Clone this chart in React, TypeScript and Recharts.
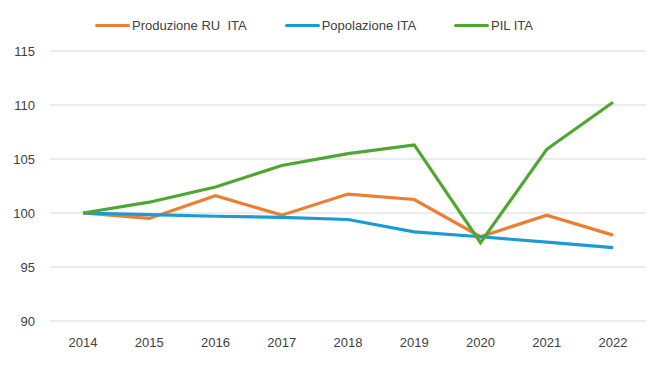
import React from 'react';
import { LineChart, Line, XAxis, YAxis, CartesianGrid } from 'recharts';

const years = ['2014', '2015', '2016', '2017', '2018', '2019', '2020', '2021', '2022'];
const produzione = [100, 99.5, 101.6, 99.8, 101.75, 101.25, 97.8, 99.8, 97.95];
const popolazione = [100, 99.85, 99.7, 99.6, 99.4, 98.25, 97.8, 97.3, 96.8];
const pil = [100, 101.0, 102.4, 104.4, 105.5, 106.3, 97.25, 105.9, 110.25];
const yTicks = [90, 95, 100, 105, 110, 115];

const series = [
  { key: 'prod', name: 'Produzione RU  ITA', color: '#ED7D31' },
  { key: 'pop', name: 'Popolazione ITA', color: '#1A9BD7' },
  { key: 'pil', name: 'PIL ITA', color: '#4EA72E' },
];

const data = years.map((y, i) => ({
  year: y,
  prod: produzione[i],
  pop: popolazione[i],
  pil: pil[i],
}));

const font = '"Liberation Sans", Arial, sans-serif';

// legend drawn outside the chart so it doesn't eat plot space
const ChartLegend = () => (
  <div
    style={{
      position: 'absolute',
      top: 18,
      left: 0,
      width: 664,
      display: 'flex',
      justifyContent: 'center',
      gap: 38,
      fontFamily: font,
      fontSize: 13,
      color: '#404040',
      paddingRight: 36,
      boxSizing: 'border-box',
    }}
  >
    {series.map((s) => (
      <div key={s.key} style={{ display: 'flex', alignItems: 'center' }}>
        <span style={{ display: 'inline-block', width: 35, height: 3.5, background: s.color, borderRadius: 2, marginRight: 2 }} />
        <span style={{ whiteSpace: 'pre' }}>{s.name}</span>
      </div>
    ))}
  </div>
);

export default function App() {
  return (
    <div style={{ position: 'absolute', left: 0, top: 0, width: 664, height: 368, background: '#fff' }}>
      <LineChart width={664} height={368} data={data} margin={{ top: 51, right: 18, bottom: 17, left: 0 }}>
        <CartesianGrid vertical={false} stroke="#d9d9d9" />
        <XAxis
          dataKey="year"
          axisLine={false}
          tickLine={false}
          padding={{ left: 33, right: 33 }}
          tick={{ fill: '#404040', fontSize: 13, fontFamily: font }}
          tickMargin={11}
        />
        <YAxis
          domain={[90, 115]}
          ticks={yTicks}
          width={50}
          axisLine={false}
          tickLine={false}
          tickSize={0}
          tickMargin={15}
          tick={{ fill: '#404040', fontSize: 13, fontFamily: font }}
        />
        {series.map((s) => (
          <Line
            key={s.key}
            type="linear"
            dataKey={s.key}
            name={s.name}
            stroke={s.color}
            strokeWidth={3.2}
            dot={false}
            isAnimationActive={false}
          />
        ))}
      </LineChart>
      <ChartLegend />
    </div>
  );
}
